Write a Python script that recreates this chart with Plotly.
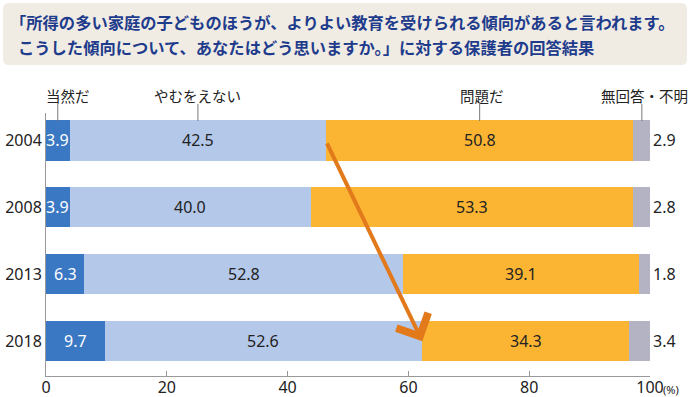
import plotly.graph_objects as go

years = ["2004", "2008", "2013", "2018"]
series_names = ["当然だ", "やむをえない", "問題だ", "無回答・不明"]
touzen = [3.9, 3.9, 6.3, 9.7]
yamu = [42.5, 40.0, 52.8, 52.6]
mondai = [50.8, 53.3, 39.1, 34.3]
mukaitou = [2.9, 2.8, 1.8, 3.4]
x_ticks = [0, 20, 40, 60, 80, 100]
title_lines = ["「所得の多い家庭の子どものほうが、よりよい教育を受けられる傾向があると言われます。",
               "こうした傾向について、あなたはどう思いますか。」に対する保護者の回答結果"]

series = [touzen, yamu, mondai, mukaitou]
colors = ["#3a78c3", "#b4c8ea", "#fcb532", "#b3b3c4"]
text_colors = ["white", "#222222", "#222222", "#222222"]
JP = "Noto Sans CJK JP"
NUM = "Noto Sans, Noto Sans CJK JP"

W, H = 690, 397
L, R, T, B = 46, 40, 113, 21
pw, ph = W - L - R, H - T - B

def px_x(p):
    return (p - L) / pw

def px_y(p):
    return (H - B - p) / ph

fig = go.Figure()
for name, vals, c in zip(series_names, series, colors):
    fig.add_trace(go.Bar(y=years, x=vals, name=name, orientation="h",
                         marker=dict(color=c, line=dict(width=0)), width=0.6,
                         hoverinfo="x+name"))

annotations = []
shapes = []
# value labels
for i, y in enumerate(years):
    cum = 0
    for k, vals in enumerate(series):
        v = vals[i]
        if k < 3:
            annotations.append(dict(x=cum + v / 2, y=i, xref="x", yref="y", text=f"{v:.1f}",
                                    showarrow=False, font=dict(size=16, color=text_colors[k], family=NUM)))
        else:
            annotations.append(dict(x=100, y=i, xref="x", yref="y", text=f"{v:.1f}", xanchor="left",
                                    xshift=1, showarrow=False, font=dict(size=16, color="#222222", family=NUM)))
        cum += v

# header labels with leader lines (positioned at middle of 2004 segments)
label_shift = [10, 0, 2, 3]
cum = 0
bar_top = px_y(121)
for k, vals in enumerate(series):
    v = vals[0]
    mid = cum + v / 2
    cum += v
    shapes.append(dict(type="line", xref="x", yref="paper", x0=mid, x1=mid, y0=bar_top, y1=px_y(104),
                       line=dict(color="#777777", width=1)))
    annotations.append(dict(x=mid, y=px_y(95), xref="x", yref="paper", text=series_names[k],
                            xshift=label_shift[k], yanchor="middle",
                            showarrow=False, font=dict(size=14.5, color="#222222", family=JP)))

# arrow from 2004 boundary to 2018 boundary
annotations.append(dict(x=touzen[3] + yamu[3], y=3, xref="x", yref="y",
                        ax=touzen[0] + yamu[0], ay=0.02, axref="x", ayref="y",
                        text="", showarrow=True, arrowhead=4, arrowsize=1.7, arrowwidth=4,
                        arrowcolor="#e27a1c", standoff=0))

# (%) label
annotations.append(dict(x=100, y=px_y(389), xref="x", yref="paper", text="(%)", xanchor="left",
                        yanchor="middle", xshift=11, showarrow=False,
                        font=dict(size=11, color="#222222", family=NUM)))

# title box
x0, x1, y0, y1 = px_x(3), px_x(687), px_y(65), px_y(3)
rx, ry = 6 / pw, 6 / ph
path = (f"M {x0+rx},{y1} L {x1-rx},{y1} Q {x1},{y1} {x1},{y1-ry} L {x1},{y0+ry} "
        f"Q {x1},{y0} {x1-rx},{y0} L {x0+rx},{y0} Q {x0},{y0} {x0},{y0+ry} "
        f"L {x0},{y1-ry} Q {x0},{y1} {x0+rx},{y1} Z")
shapes.append(dict(type="path", xref="paper", yref="paper", path=path,
                   fillcolor="#f0ece4", line=dict(width=0), layer="below"))
title_x = [8, 16]
for j, line in enumerate(title_lines):
    annotations.append(dict(x=px_x(title_x[j]), y=px_y(22 + 25 * j), xref="paper", yref="paper", text=line,
                            xanchor="left", yanchor="middle", showarrow=False,
                            font=dict(size=16.3, color="#1f3c8c", family=JP, weight="bold")))

fig.update_layout(
    width=W, height=H, margin=dict(l=L, r=R, t=T, b=B, pad=0), autosize=False,
    barmode="stack", showlegend=False,
    plot_bgcolor="white", paper_bgcolor="white",
    font=dict(family=JP, size=15, color="#222222"),
    xaxis=dict(range=[0, 100], tickvals=x_ticks, showgrid=False, zeroline=False,
               showline=True, linecolor="#999999", linewidth=1, automargin=False,
               ticks="inside", ticklen=5, tickcolor="#999999", ticklabelstandoff=-3,
               tickfont=dict(size=16, color="#222222", family=NUM)),
    yaxis=dict(type="category", categoryarray=years, range=[3.52, -0.41], showgrid=False,
               showline=True, linecolor="#999999", linewidth=1, ticks="", automargin=False,
               tickfont=dict(size=16, color="#222222", family=NUM)),
    annotations=annotations, shapes=shapes,
)

fig.write_html("out.html", config={"displayModeBar": False, "responsive": False},
               post_script="document.body.style.margin='0';")
